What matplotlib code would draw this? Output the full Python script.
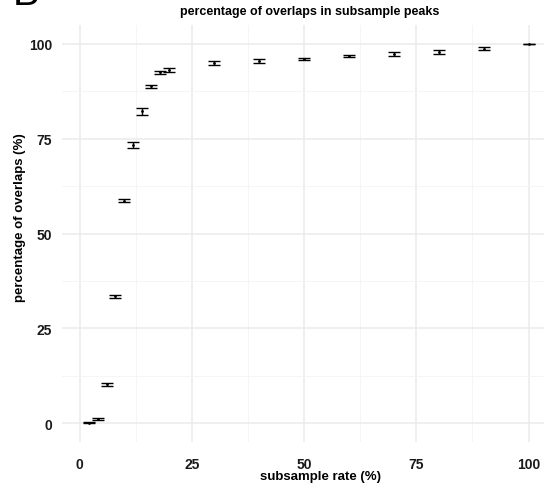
import matplotlib
matplotlib.use('Agg')
import matplotlib.pyplot as plt
from matplotlib.ticker import MultipleLocator

plt.rcParams['font.family'] = ['Liberation Sans', 'DejaVu Sans']

# subsample rate (%) and mean overlap (%) with standard error
rate = [2, 4, 6, 8, 10, 12, 14, 16, 18, 20, 30, 40, 50, 60, 70, 80, 90, 100]
overlap = [0.1, 1.0, 10.2, 33.4, 58.7, 73.4, 82.2, 88.8, 92.5, 93.1,
           95.0, 95.4, 96.0, 96.8, 97.4, 97.9, 98.8, 100.0]
err = [0.15, 0.25, 0.35, 0.3, 0.4, 0.75, 0.85, 0.4, 0.3, 0.5,
       0.6, 0.55, 0.35, 0.3, 0.55, 0.45, 0.3, 0.05]

W, H = 544, 489
fig = plt.figure(figsize=(W / 100, H / 100), dpi=100)
# panel runs past the right edge of the figure
ax = fig.add_axes([61.6 / W, 1 - 443 / H, (555.5 - 61.6) / W, (443 - 26) / H])

ax.errorbar(rate, overlap, yerr=err, fmt='none', ecolor='black',
            elinewidth=1.0, capsize=4.5, capthick=1.0, zorder=3)
ax.scatter(rate, overlap, s=4, color='black', zorder=4, linewidths=0)

ax.set_xlim(-4, 106)
ax.set_ylim(-5, 105)
ax.xaxis.set_major_locator(MultipleLocator(25))
ax.yaxis.set_major_locator(MultipleLocator(25))
ax.xaxis.set_minor_locator(MultipleLocator(12.5))
ax.yaxis.set_minor_locator(MultipleLocator(12.5))
ax.grid(which='major', color='#ebebeb', linewidth=1.1)
ax.grid(which='minor', color='#f4f4f4', linewidth=0.6)
ax.set_axisbelow(True)
for s in ax.spines.values():
    s.set_visible(False)
ax.tick_params(which='both', length=0)
ax.tick_params(axis='x', pad=11)
ax.tick_params(axis='y', pad=7)
for lab in ax.get_xticklabels() + ax.get_yticklabels():
    lab.set_fontweight('bold')
    lab.set_fontsize(10)
    lab.set_color('#1a1a1a')

fig.text(310 / W, 1 - 12 / H, 'percentage of overlaps in subsample peaks',
         ha='center', va='center', fontsize=9, fontweight='bold')
fig.text(320 / W, 1 - 477 / H, 'subsample rate (%)',
         ha='center', va='center', fontsize=9.5, fontweight='bold')
fig.text(20 / W, 1 - 218 / H, 'percentage of overlaps (%)', rotation=90,
         ha='center', va='center', fontsize=9.5, fontweight='bold')
fig.text(13 / W, 1 - 5 / H, 'B', ha='left', va='baseline', fontsize=29)

fig.savefig('out.png', dpi=100)
plt.close(fig)
